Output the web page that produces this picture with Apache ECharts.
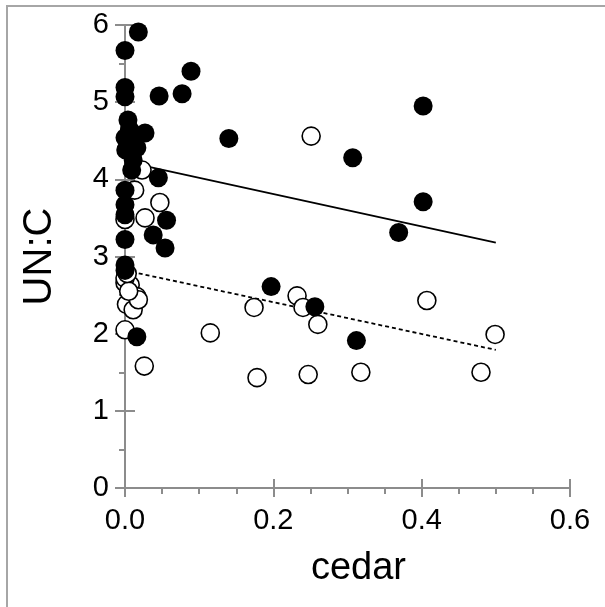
<!DOCTYPE html>
<html>
<head>
    <meta charset="UTF-8">
    <script src="https://cdn.jsdelivr.net/npm/echarts@6/dist/echarts.min.js"></script>
    <title>UN:C vs cedar</title>
    <style>
    html, body { margin: 0; padding: 0; background: #fff; }
    #chart { width: 605px; height: 607px; }
    </style>
</head>
<body>
    <div id="chart"></div>
    <script type="text/javascript">
    // filled circles
    var filledCedar = [0.018, 0, 0, 0, 0.046, 0.077, 0.089, 0.140, 0.307, 0.402, 0.402, 0.369,
        0.197, 0.256, 0.312, 0.016, 0.004, 0.027, 0, 0.001, 0.016, 0.011, 0.009, 0.045,
        0, 0, 0, 0.056, 0.038, 0.054, 0, 0, 0, 0.006, 0.008];
    var filledUNC = [5.91, 5.67, 5.19, 5.07, 5.08, 5.11, 5.40, 4.53, 4.28, 4.95, 3.71, 3.31,
        2.61, 2.35, 1.91, 1.96, 4.77, 4.60, 4.54, 4.38, 4.41, 4.25, 4.12, 4.02,
        3.86, 3.67, 3.54, 3.47, 3.28, 3.11, 3.22, 2.89, 2.82, 4.65, 4.50];
    // open circles
    var openCedar = [0.251, 0.023, 0.013, 0.047, 0.027, 0, 0.174, 0.115, 0.232, 0.240, 0.260,
        0.407, 0.499, 0.178, 0.247, 0.318, 0.480, 0, 0.007, 0.016, 0.002, 0.011, 0.018,
        0, 0.005, 0, 0.026, 0.003];
    var openUNC = [4.56, 4.12, 3.86, 3.70, 3.50, 3.48, 2.34, 2.01, 2.49, 2.34, 2.12,
        2.43, 1.99, 1.43, 1.47, 1.50, 1.50, 2.66, 2.63, 2.48, 2.38, 2.31, 2.44,
        2.72, 2.55, 2.05, 1.58, 2.78];
    // trend lines (ends)
    var trendCedar = [0, 0.5];
    var filledTrend = [4.23, 3.18];
    var openTrend = [2.82, 1.79];

    var xTicks = ['0.0', '0.2', '0.4', '0.6'];

    function zip(a, b) {
        return a.map(function (v, i) { return [v, b[i]]; });
    }

    var chart = echarts.init(document.getElementById('chart'));
    var axisColor = '#8c8c8c';
    var font = 'Liberation Sans, Arial, sans-serif';

    var option = {
        backgroundColor: '#fff',
        animation: false,
        grid: { left: 125, top: 25, width: 445, height: 463 },
        xAxis: [{
            type: 'value', min: 0, max: 0.6, interval: 0.2,
            name: 'cedar', nameLocation: 'middle', nameGap: 62,
            nameTextStyle: { fontFamily: font, fontSize: 38, color: '#000', padding: [0, 0, 0, 22] },
            axisLine: { onZero: false, lineStyle: { color: axisColor, width: 2 } },
            axisTick: { length: 9, lineStyle: { color: axisColor, width: 2 } },
            minorTick: { show: true, splitNumber: 4, length: 6, lineStyle: { color: axisColor, width: 2 } },
            axisLabel: {
                fontFamily: font, fontSize: 29, color: '#000', margin: 18,
                formatter: function (v) { return xTicks[Math.round(v / 0.2)]; }
            },
            splitLine: { show: false }
        }, {
            type: 'value', min: 0, max: 0.6, interval: 0.2, position: 'bottom',
            axisLine: { show: false },
            axisTick: { inside: true, length: 9, lineStyle: { color: axisColor, width: 2 } },
            axisLabel: { show: false },
            splitLine: { show: false }
        }],
        yAxis: [{
            type: 'value', min: 0, max: 6, interval: 1,
            name: 'UN:C', nameLocation: 'middle', nameGap: 65, nameRotate: 90,
            nameTextStyle: { fontFamily: font, fontSize: 40, color: '#000' },
            axisLine: { show: true, onZero: false, lineStyle: { color: axisColor, width: 2 } },
            axisTick: { show: true, length: 10, lineStyle: { color: axisColor, width: 2 } },
            minorTick: { show: true, splitNumber: 2, length: 6, lineStyle: { color: axisColor, width: 2 } },
            axisLabel: { fontFamily: font, fontSize: 29, color: '#000', margin: 16 },
            splitLine: { show: false }
        }, {
            type: 'value', min: 0, max: 6, interval: 1, position: 'left',
            axisLine: { show: false },
            axisTick: { show: true, inside: true, length: 10, lineStyle: { color: axisColor, width: 2 } },
            axisLabel: { show: false },
            splitLine: { show: false }
        }],
        series: [{
            type: 'line', data: zip(trendCedar, filledTrend), symbol: 'none',
            lineStyle: { color: '#000', width: 1.8 }, z: 1
        }, {
            type: 'line', data: zip(trendCedar, openTrend), symbol: 'none',
            lineStyle: { color: '#000', width: 1.8, type: [4, 3] }, z: 1
        }, {
            type: 'scatter', data: zip(openCedar, openUNC), symbol: 'circle', symbolSize: 18,
            itemStyle: { color: '#fff', borderColor: '#000', borderWidth: 1.6, opacity: 1 }, z: 2
        }, {
            type: 'scatter', data: zip(filledCedar, filledUNC), symbol: 'circle', symbolSize: 19,
            itemStyle: { color: '#000', opacity: 1 }, z: 3
        }],
        graphic: [{
            type: 'line', shape: { x1: 6, y1: 6, x2: 605, y2: 6 },
            style: { stroke: '#a6a6a6', lineWidth: 2 }
        }, {
            type: 'line', shape: { x1: 7, y1: 6, x2: 7, y2: 607 },
            style: { stroke: '#a6a6a6', lineWidth: 2 }
        }]
    };
    chart.setOption(option);
    </script>
</body>
</html>
